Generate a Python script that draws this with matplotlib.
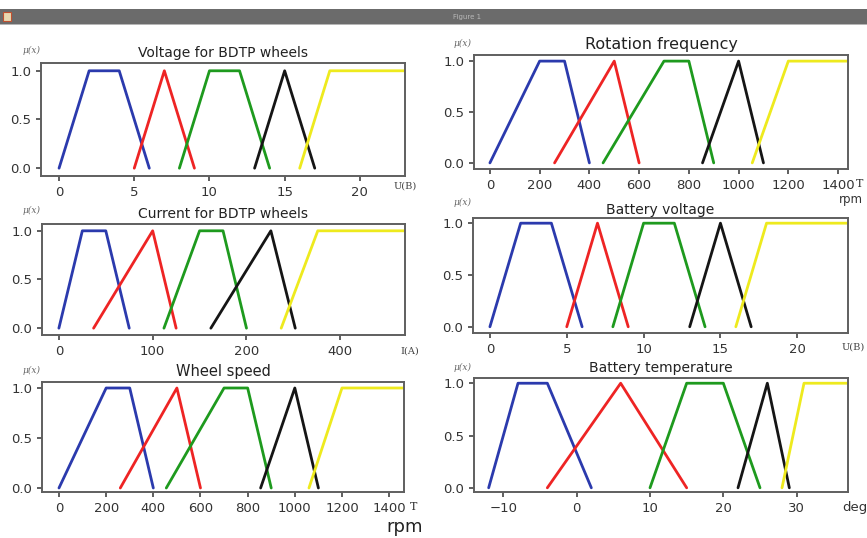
import matplotlib
matplotlib.use("Agg")
import matplotlib.pyplot as plt
from matplotlib.patches import Rectangle

W, H = 867, 538

# ---------------- data ----------------
trap_y = [0, 1, 1, 0]
tri_y = [0, 1, 0]
shoulder_y = [0, 1, 1]

volt_blue = [0, 2, 4, 6]
volt_red = [5, 7, 9]
volt_green = [8, 10, 12, 14]
volt_black = [13, 15, 17]
volt_yellow = [16, 18, 23]

rot_blue = [0, 200, 300, 400]
rot_red = [260, 500, 600]
rot_green = [455, 700, 800, 900]
rot_black = [855, 1000, 1100]
rot_yellow = [1055, 1200, 1440]

cur_blue = [0, 25, 50, 75]
cur_red = [37, 100, 125]
cur_green = [112, 150, 175, 200]
cur_black = [162, 226, 252]
cur_yellow = [237, 276, 369]
cur_ticks = [0, 100, 200, 300]
cur_ticklabels = ["0", "100", "200", "400"]

bv_blue = [0, 2, 4, 6]
bv_red = [5, 7, 9]
bv_green = [8, 10, 12, 14]
bv_black = [13, 15, 17]
bv_yellow = [16, 18, 23.3]

ws_blue = [0, 200, 300, 400]
ws_red = [260, 500, 600]
ws_green = [455, 700, 800, 900]
ws_black = [855, 1000, 1100]
ws_yellow = [1060, 1200, 1463]

bt_blue = [-12, -8, -4, 2]
bt_red = [-4, 6, 15]
bt_green = [10, 15, 20, 25]
bt_black = [22, 26, 29]
bt_yellow = [28, 31, 37]

colors = ["#2b3aad", "#ee2424", "#1e9a1e", "#151515", "#eeea1e"]

fig = plt.figure(figsize=(W / 100, H / 100), dpi=100)
fig.patch.set_facecolor("white")

# window title bar
fig.patches.append(Rectangle((0, 1 - 24 / H), 1, 15 / H, transform=fig.transFigure,
                             facecolor="#6b6b6b", edgecolor="none"))
fig.patches.append(Rectangle((0, 1 - 25 / H), 1, 1.2 / H, transform=fig.transFigure,
                             facecolor="#b5b5b5", edgecolor="none"))
fig.patches.append(Rectangle((3 / W, 1 - 21 / H), 8 / W, 9 / H, transform=fig.transFigure,
                             facecolor="#e8d8b0", edgecolor="#c05030", linewidth=0.8))
fig.text(467 / W, 1 - 16.5 / H, "Figure 1", fontsize=5, color="#b8b8b8",
         ha="center", va="center")


def make_ax(l, t, r, b):
    ax = fig.add_axes([l / W, 1 - b / H, (r - l) / W, (b - t) / H])
    for s in ax.spines.values():
        s.set_color("#5f5f5f")
        s.set_linewidth(1.4)
    ax.tick_params(colors="#333333", labelsize=9.5, length=3.5, width=1.1,
                   labelcolor="#333333")
    ax.set_yticks([0.0, 0.5, 1.0])
    ax.set_yticklabels(["0.0", "0.5", "1.0"])
    return ax


def draw(ax, sets):
    ys = [trap_y, tri_y, trap_y, tri_y, shoulder_y]
    for xs, y, c in zip(sets, ys, colors):
        ax.plot(xs, y, color=c, linewidth=2.0, solid_capstyle="round")


def mu(x, y):
    fig.text(x / W, 1 - y / H, "μ(x)", fontsize=6.5, style="italic",
             family="DejaVu Serif", color="#666666", ha="center", va="center")


# Top-left: Voltage
ax1 = make_ax(41, 63, 405, 176)
draw(ax1, [volt_blue, volt_red, volt_green, volt_black, volt_yellow])
ax1.set_xlim(-1.2, 23)
ax1.set_ylim(-0.08, 1.08)
ax1.set_xticks([0, 5, 10, 15, 20])
ax1.set_title("Voltage for BDTP wheels", fontsize=10, color="#222222", pad=4)
fig.text(405 / W, 1 - 186 / H, "U(B)", fontsize=7, family="DejaVu Serif",
         color="#444444", ha="center", va="center")
mu(32, 50)

# Top-right: Rotation frequency
ax2 = make_ax(474, 55, 848, 169)
draw(ax2, [rot_blue, rot_red, rot_green, rot_black, rot_yellow])
ax2.set_xlim(-64, 1440)
ax2.set_ylim(-0.06, 1.06)
ax2.set_xticks([0, 200, 400, 600, 800, 1000, 1200, 1400])
ax2.set_title("Rotation frequency", fontsize=11.5, color="#222222", pad=4)
fig.text(860 / W, 1 - 184 / H, "T", fontsize=8, family="DejaVu Serif",
         color="#333333", ha="center", va="center")
fig.text(851 / W, 1 - 200 / H, "rpm", fontsize=8.5, color="#333333",
         ha="center", va="center")
mu(463, 43)

# Middle-left: Current
ax3 = make_ax(42, 224, 405, 335)
draw(ax3, [cur_blue, cur_red, cur_green, cur_black, cur_yellow])
ax3.set_xlim(-18, 369)
ax3.set_ylim(-0.07, 1.07)
ax3.set_xticks(cur_ticks)
ax3.set_xticklabels(cur_ticklabels)
ax3.set_title("Current for BDTP wheels", fontsize=10, color="#222222", pad=4)
fig.text(410 / W, 1 - 351 / H, "I(A)", fontsize=7, family="DejaVu Serif",
         color="#444444", ha="center", va="center")
mu(32, 210)

# Middle-right: Battery voltage
ax4 = make_ax(473, 218, 848, 333)
draw(ax4, [bv_blue, bv_red, bv_green, bv_black, bv_yellow])
ax4.set_xlim(-1.1, 23.3)
ax4.set_ylim(-0.06, 1.05)
ax4.set_xticks([0, 5, 10, 15, 20])
ax4.set_title("Battery voltage", fontsize=10, color="#222222", pad=3)
fig.text(853 / W, 1 - 347 / H, "U(B)", fontsize=7, family="DejaVu Serif",
         color="#444444", ha="center", va="center")
mu(463, 202)

# Bottom-left: Wheel speed
ax5 = make_ax(42, 382, 404, 492)
draw(ax5, [ws_blue, ws_red, ws_green, ws_black, ws_yellow])
ax5.set_xlim(-72, 1463)
ax5.set_ylim(-0.04, 1.06)
ax5.set_xticks([0, 200, 400, 600, 800, 1000, 1200, 1400])
ax5.set_title("Wheel speed", fontsize=10.5, color="#222222", pad=4)
fig.text(414 / W, 1 - 507 / H, "T", fontsize=8, family="DejaVu Serif",
         color="#333333", ha="center", va="center")
fig.text(405 / W, 1 - 527 / H, "rpm", fontsize=13, color="#222222",
         ha="center", va="center")
mu(32, 370)

# Bottom-right: Battery temperature
ax6 = make_ax(474, 378, 848, 492)
draw(ax6, [bt_blue, bt_red, bt_green, bt_black, bt_yellow])
ax6.set_xlim(-14, 37)
ax6.set_ylim(-0.04, 1.05)
ax6.set_xticks([-10, 0, 10, 20, 30])
ax6.set_title("Battery temperature", fontsize=10, color="#222222", pad=4)
fig.text(855 / W, 1 - 507 / H, "deg", fontsize=9.5, color="#333333",
         ha="center", va="center")
mu(463, 367)

fig.savefig("out.png", dpi=100)
